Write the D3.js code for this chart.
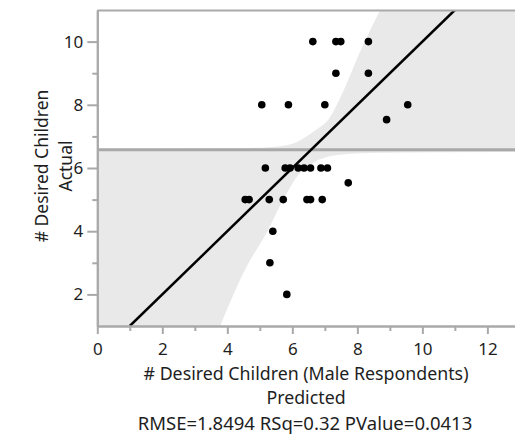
<!DOCTYPE html>
<html>
<head>
<meta charset="utf-8">
<script src="https://cdn.jsdelivr.net/npm/d3@7"></script>
<style>
    html, body { margin: 0; padding: 0; background: #fff; }
    svg { display: block; }
    text { font-family: "Noto Sans", "Open Sans", sans-serif; fill: #1e1e1e; }
</style>
</head>
<body>
<svg id="chart" width="515" height="435"></svg>
<script>
// --- data ---
const predicted = [6.63, 7.34, 7.49, 8.34, 7.34, 8.34, 5.06, 5.88, 7.0, 9.55, 8.9,
    5.17, 5.78, 5.93, 6.18, 6.36, 6.56, 6.88, 7.08, 7.72,
    4.55, 4.67, 5.29, 5.72, 6.45, 6.56, 6.92, 5.4, 5.31, 5.83];
const actual = [10, 10, 10, 10, 9, 9, 8, 8, 8, 8, 7.53,
    6, 6, 6, 6, 6, 6, 6, 6, 5.53,
    5, 5, 5, 5, 5, 5, 5, 4, 3, 2];

const meanY = 6.58;
const fitLine = [[1, 1], [11, 11]];

// confidence curves (upper one rises off the mean line, lower one falls off it)
const upperCurve = [[0, 6.61], [4.39, 6.63], [5.3, 6.66], [5.93, 6.74], [6.42, 6.99],
    [6.73, 7.21], [7.1, 7.52], [7.56, 8.41], [8.08, 9.67], [8.7, 11]];
const lowerCurve = [[3.78, 1], [4.6, 2.89], [5.21, 3.95], [5.72, 5.0], [6.2, 5.8],
    [6.7, 6.2], [7.47, 6.42], [8.7, 6.48], [12.85, 6.51]];

const xMajor = [0, 2, 4, 6, 8, 10, 12];
const xMinor = [1, 3, 5, 7, 9, 11];
const yMajor = [2, 4, 6, 8, 10];
const yMinor = [3, 5, 7, 9];

const statsText = "RMSE=1.8494 RSq=0.32 PValue=0.0413";

// --- layout ---
const svg = d3.select("#chart");
const mLeft = 97.3, mRight = 515, mTop = 10, mBottom = 326;
const xMax = 12.85;
const x = d3.scaleLinear().domain([0, xMax]).range([mLeft, mRight]);
const y = d3.scaleLinear().domain([1, 11]).range([mBottom, mTop]);

svg.append("clipPath").attr("id", "plotClip")
    .append("rect")
    .attr("x", mLeft).attr("y", mTop)
    .attr("width", mRight - mLeft).attr("height", mBottom - mTop);

const plot = svg.append("g").attr("clip-path", "url(#plotClip)");

// shaded confidence region
const curve = d3.line().x(d => x(d[0])).y(d => y(d[1])).curve(d3.curveMonotoneX);
const lowerRev = curve(lowerCurve.slice().reverse());
const bandPath = curve(upperCurve)
    + `L${x(xMax)},${y(11)}`
    + "L" + lowerRev.slice(1)
    + `L${x(0)},${y(1)}Z`;

plot.append("path")
    .attr("d", bandPath)
    .attr("fill", "#e9e9e9")
    .attr("stroke", "none");

// mean line
plot.append("line")
    .attr("x1", mLeft).attr("x2", mRight)
    .attr("y1", y(meanY)).attr("y2", y(meanY))
    .attr("stroke", "#a9a9a9")
    .attr("stroke-width", 3);

// fit line
plot.append("line")
    .attr("x1", x(fitLine[0][0])).attr("y1", y(fitLine[0][1]))
    .attr("x2", x(fitLine[1][0])).attr("y2", y(fitLine[1][1]))
    .attr("stroke", "#000")
    .attr("stroke-width", 2.5);

// points
plot.selectAll("circle")
    .data(d3.range(predicted.length))
    .enter()
    .append("circle")
    .attr("cx", i => x(predicted[i]))
    .attr("cy", i => y(actual[i]))
    .attr("r", 3.8)
    .attr("fill", "#000");

// frame: top border
svg.append("line")
    .attr("x1", mLeft).attr("x2", mRight)
    .attr("y1", mTop + 0.5).attr("y2", mTop + 0.5)
    .attr("stroke", "#a9a9a9")
    .attr("stroke-width", 2);

// --- axes ---
function styleAxis(g) {
    g.select(".domain").attr("stroke", "#a9a9a9").attr("stroke-width", 2);
    g.selectAll(".tick line").attr("stroke", "#a9a9a9").attr("stroke-width", 2);
    g.selectAll("text").style("font-size", "17px").attr("fill", "#1e1e1e");
}

svg.append("g")
    .attr("transform", `translate(0,${mBottom})`)
    .call(d3.axisBottom(x).tickValues(xMinor).tickSize(5).tickFormat("").tickSizeOuter(0))
    .call(styleAxis);
svg.append("g")
    .attr("transform", `translate(0,${mBottom})`)
    .call(d3.axisBottom(x).tickValues(xMajor).tickSize(8).tickPadding(9).tickSizeOuter(0))
    .call(styleAxis);

svg.append("g")
    .attr("transform", `translate(${mLeft},0)`)
    .call(d3.axisLeft(y).tickValues(yMinor).tickSize(5).tickFormat("").tickSizeOuter(0))
    .call(styleAxis);
svg.append("g")
    .attr("transform", `translate(${mLeft},0)`)
    .call(d3.axisLeft(y).tickValues(yMajor).tickSize(10).tickPadding(4).tickSizeOuter(0))
    .call(styleAxis);

// --- titles ---
const cx = 306;
svg.append("text").attr("x", cx).attr("y", 380).attr("text-anchor", "middle")
    .style("font-size", "17.8px").text("# Desired Children (Male Respondents)");
svg.append("text").attr("x", cx).attr("y", 404).attr("text-anchor", "middle")
    .style("font-size", "17.8px").text("Predicted");
svg.append("text").attr("x", 305).attr("y", 430).attr("text-anchor", "middle")
    .style("font-size", "18.5px").text(statsText);

const yTitle = svg.append("g").attr("transform", "translate(0,166) rotate(-90)");
yTitle.append("text").attr("x", 0).attr("y", 48).attr("text-anchor", "middle")
    .style("font-size", "17.5px").text("# Desired Children");
yTitle.append("text").attr("x", 0).attr("y", 72).attr("text-anchor", "middle")
    .style("font-size", "17.5px").text("Actual");
</script>
</body>
</html>
